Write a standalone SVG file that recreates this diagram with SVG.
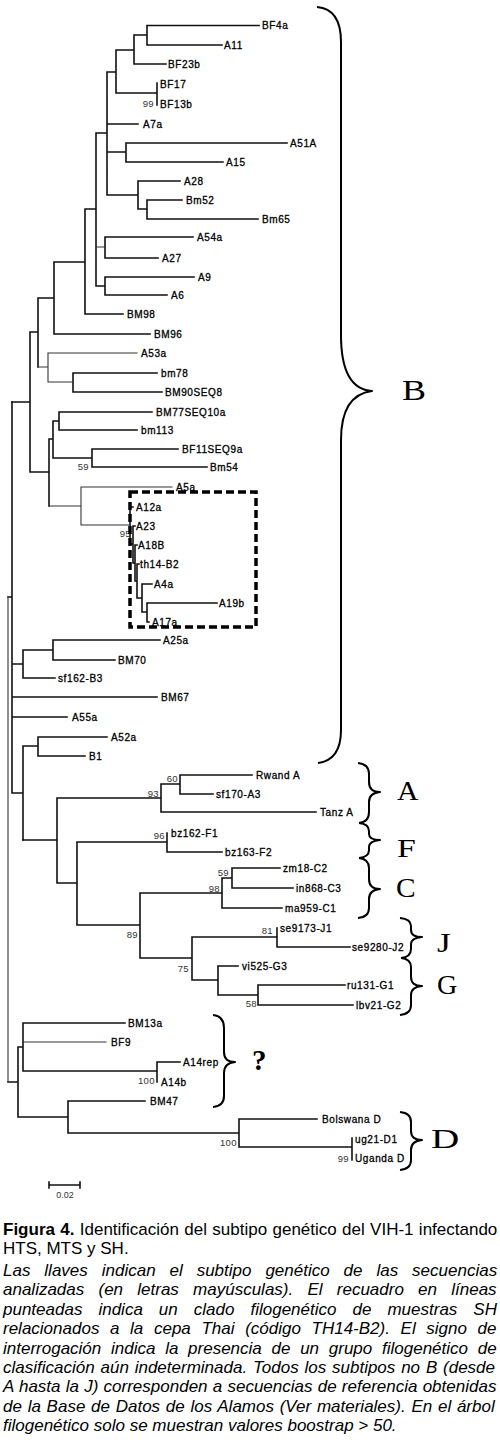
<svg xmlns="http://www.w3.org/2000/svg" width="500" height="1445" viewBox="0 0 500 1445">
<style>
.br{fill:none;stroke:#111;stroke-width:1.6;stroke-linecap:square}
.th{fill:none;stroke:#333;stroke-width:1.1;stroke-linecap:square}
.lbl{font-family:"Liberation Sans",Arial,sans-serif;font-size:10px;letter-spacing:0.6px;fill:#000;stroke:#000;stroke-width:0.3}
.bs{font-family:"Liberation Sans",Arial,sans-serif;font-size:9.5px;letter-spacing:0.4px;fill:#333;text-anchor:end}
.brace{fill:none;stroke:#000;stroke-width:2;stroke-linejoin:round}
.sub{font-family:"Liberation Serif","Times New Roman",serif;fill:#000}
.cap{font-family:"Liberation Sans",Arial,sans-serif;font-size:17px;fill:#000}
.it{font-style:italic}
</style>
<rect width="500" height="1445" fill="#fff"/>
<g id="connectors">
<path class="br" d="M147,25.5H259 M147,45H222 M147,25.5V45 M134,35H147 M134,64H166 M134,35V64 M116,50H134 M157,83V105 M116,93H157 M116,50V93 M107,72H116 M107,124H138 M126,143H287 M126,162H223 M126,143V162 M107,152H126 M138,181H180 M147,200H182 M147,219H258 M147,200V219 M138,209H147 M138,181V209 M107,195H138 M107,72V195 M96,133H107 M105,237H193 M105,258H158 M105,237V258 M105,277H194 M105,295H167 M105,277V295 M96,286H105 M96,133V286 M85,209H96 M85,314H123 M85,209V314 M54,262H85 M54,334H150 M54,262V334 M38,298H54 M73,373H157 M73,392H162 M73,373V392 M38,298V367 M30,332H38 M59,412H152 M59,430H137 M59,412V430 M53,421H59 M92,449H178 M92,467H207 M92,449V467 M53,458H92 M53,421V458 M49,439H53 M49,439V506 M30,472H49 M30,332V472 M12,402H30"/>
<path class="br" d="M130,507H133 M133,526H135 M135,545H137 M137,564H139 M142,584H152 M147,603H217 M147,622H149 M147,603V622 M142,612H147 M142,584V612 M137,598H142 M137,564V598 M135,581H137 M135,545V581 M133,563H135 M133,526V563 M130,544H133 M130,507V544"/>
<path class="br" d="M53,640H160 M53,660H115 M53,640V660 M23,650H53 M23,678H55 M23,650V678 M12,664H23 M12,697H157 M12,717H67 M38,737H107 M38,756H85 M38,737V756 M23,746H38 M23,746V840 M12,793H23 M12,402V793 M8,597H12"/>
<path class="br" d="M180,775H252 M180,794H213 M180,775V794 M161,784H180 M161,812H316 M161,784V812 M57,798H161 M23,840H57 M57,798V883 M167,833V852 M167,852H222 M77,842H167 M77,842V925 M57,883H77 M232,868H280 M232,888H293 M232,868V888 M222,878H232 M222,908H282 M222,878V908 M140,893H222 M140,893V958 M77,925H140 M277,928V947 M277,947H350 M192,937H277 M218,966H238 M258,985H345 M258,1005H353 M258,985V1005 M218,995H258 M218,966V995 M192,980H218 M192,937V980 M140,958H192"/>
<path class="br" d="M23,1023H125 M157,1062H180 M157,1062V1082 M23,1071H157 M23,1023V1071 M18,1047H23 M68,1101H145 M68,1101V1133 M18,1117H68 M18,1047V1117 M8,1082H18 M239,1119H317 M352,1138V1160 M239,1147H352 M239,1119V1147 M68,1133H239"/>
<path class="th" d="M96,247H105 M81,487H172 M81,487V525 M81,525H130 M49,506H81 M48,353H137 M48,353V382 M48,382H73 M38,367H48 M23,1042H106 M8,597V1082"/>
<g id="scalebar">
<path class="br" d="M49,1185H80 M49,1182V1188 M80,1182V1188"/>
<text x="65" y="1198" font-family="Liberation Sans, Arial, sans-serif" font-size="9" fill="#333" text-anchor="middle">0.02</text>
</g>
</g>
<g id="bootstrap">
<text class="bs" x="154" y="107">99</text>
<text class="bs" x="89" y="470">59</text>
<text class="bs" x="131" y="537">95</text>
<text class="bs" x="178" y="782">60</text>
<text class="bs" x="159" y="797">93</text>
<text class="bs" x="165" y="839">96</text>
<text class="bs" x="229" y="876">59</text>
<text class="bs" x="220" y="892">98</text>
<text class="bs" x="138" y="938">89</text>
<text class="bs" x="273" y="934">81</text>
<text class="bs" x="189" y="972">75</text>
<text class="bs" x="257" y="1007">58</text>
<text class="bs" x="155" y="1084">100</text>
<text class="bs" x="237" y="1146">100</text>
<text class="bs" x="349" y="1162">99</text>
</g>
<g id="n-BF4a"><text class="lbl" x="262" y="29">BF4a</text></g>
<g id="n-A11"><text class="lbl" x="224" y="48.5">A11</text></g>
<g id="n-BF23b"><text class="lbl" x="168" y="67.5">BF23b</text></g>
<g id="n-BF17"><text class="lbl" x="160" y="87.5">BF17</text></g>
<g id="n-BF13b"><text class="lbl" x="160" y="107.5">BF13b</text></g>
<g id="n-A7a"><text class="lbl" x="143" y="127.5">A7a</text></g>
<g id="n-A51A"><text class="lbl" x="290" y="146.5">A51A</text></g>
<g id="n-A15"><text class="lbl" x="226" y="165.5">A15</text></g>
<g id="n-A28"><text class="lbl" x="184" y="184.5">A28</text></g>
<g id="n-Bm52"><text class="lbl" x="186" y="203.5">Bm52</text></g>
<g id="n-Bm65"><text class="lbl" x="262" y="222.5">Bm65</text></g>
<g id="n-A54a"><text class="lbl" x="197" y="240.5">A54a</text></g>
<g id="n-A27"><text class="lbl" x="162" y="261.5">A27</text></g>
<g id="n-A9"><text class="lbl" x="198" y="280.5">A9</text></g>
<g id="n-A6"><text class="lbl" x="171" y="298.5">A6</text></g>
<g id="n-BM98"><text class="lbl" x="127" y="317.5">BM98</text></g>
<g id="n-BM96"><text class="lbl" x="154" y="337.5">BM96</text></g>
<g id="n-A53a"><text class="lbl" x="141" y="356.5">A53a</text></g>
<g id="n-bm78"><text class="lbl" x="161" y="376.5">bm78</text></g>
<g id="n-BM90SEQ8"><text class="lbl" x="165" y="395.5">BM90SEQ8</text></g>
<g id="n-BM77SEQ10a"><text class="lbl" x="156" y="415.5">BM77SEQ10a</text></g>
<g id="n-bm113"><text class="lbl" x="141" y="433.5">bm113</text></g>
<g id="n-BF11SEQ9a"><text class="lbl" x="182" y="452.5">BF11SEQ9a</text></g>
<g id="n-Bm54"><text class="lbl" x="210" y="470.5">Bm54</text></g>
<g id="n-A5a"><text class="lbl" x="176" y="490.5">A5a</text></g>
<g id="n-A12a"><text class="lbl" x="136" y="510.5">A12a</text></g>
<g id="n-A23"><text class="lbl" x="136" y="529.5">A23</text></g>
<g id="n-A18B"><text class="lbl" x="138" y="548.5">A18B</text></g>
<g id="n-th14-B2"><text class="lbl" x="140" y="567.5">th14-B2</text></g>
<g id="n-A4a"><text class="lbl" x="154" y="587.5">A4a</text></g>
<g id="n-A19b"><text class="lbl" x="219" y="606.5">A19b</text></g>
<g id="n-A17a"><text class="lbl" x="152" y="625.5">A17a</text></g>
<g id="n-A25a"><text class="lbl" x="163" y="643.5">A25a</text></g>
<g id="n-BM70"><text class="lbl" x="118" y="663.5">BM70</text></g>
<g id="n-sf162-B3"><text class="lbl" x="58" y="681.5">sf162-B3</text></g>
<g id="n-BM67"><text class="lbl" x="161" y="700.5">BM67</text></g>
<g id="n-A55a"><text class="lbl" x="72" y="720.5">A55a</text></g>
<g id="n-A52a"><text class="lbl" x="111" y="740.5">A52a</text></g>
<g id="n-B1"><text class="lbl" x="89" y="759.5">B1</text></g>
<g id="n-RwandA"><text class="lbl" x="256" y="778.5">Rwand A</text></g>
<g id="n-sf170-A3"><text class="lbl" x="216" y="797.5">sf170-A3</text></g>
<g id="n-TanzA"><text class="lbl" x="320" y="815.5">Tanz A</text></g>
<g id="n-bz162-F1"><text class="lbl" x="171" y="836.5">bz162-F1</text></g>
<g id="n-bz163-F2"><text class="lbl" x="225" y="855.5">bz163-F2</text></g>
<g id="n-zm18-C2"><text class="lbl" x="283" y="871.5">zm18-C2</text></g>
<g id="n-in868-C3"><text class="lbl" x="296" y="891.5">in868-C3</text></g>
<g id="n-ma959-C1"><text class="lbl" x="285" y="911.5">ma959-C1</text></g>
<g id="n-se9173-J1"><text class="lbl" x="280" y="931.5">se9173-J1</text></g>
<g id="n-se9280-J2"><text class="lbl" x="352" y="950.5">se9280-J2</text></g>
<g id="n-vi525-G3"><text class="lbl" x="242" y="969.5">vi525-G3</text></g>
<g id="n-ru131-G1"><text class="lbl" x="347" y="988.5">ru131-G1</text></g>
<g id="n-lbv21-G2"><text class="lbl" x="356" y="1008.5">lbv21-G2</text></g>
<g id="n-BM13a"><text class="lbl" x="128" y="1026.5">BM13a</text></g>
<g id="n-BF9"><text class="lbl" x="111" y="1045.5">BF9</text></g>
<g id="n-A14rep"><text class="lbl" x="183" y="1065.5">A14rep</text></g>
<g id="n-A14b"><text class="lbl" x="161" y="1085.5">A14b</text></g>
<g id="n-BM47"><text class="lbl" x="150" y="1104.5">BM47</text></g>
<g id="n-BolswanaD"><text class="lbl" x="322" y="1122.5">Bolswana D</text></g>
<g id="n-ug21-D1"><text class="lbl" x="355" y="1142.5">ug21-D1</text></g>
<g id="n-UgandaD"><text class="lbl" x="355" y="1161.5">Uganda D</text></g>
<g id="thai-box">
<rect x="130" y="492" width="126" height="135" fill="none" stroke="#000" stroke-width="3.5" stroke-dasharray="8 4"/>
</g>
<g id="brace-B">
<path class="brace" d="M317,7 Q341,9 341,42 V335 Q341,389 372,391 Q341,395 341,440 V730 Q341,760 318,763"/>
<text class="sub" font-size="30" transform="translate(402,400) scale(1.2,1)">B</text>
</g>
<g id="brace-A">
<path class="brace" d="M358,763 Q369,764 369,774 V782 Q369,792 380,792 Q369,793 369,802 V812 Q369,822 359,823"/>
<text class="sub" font-size="27" transform="translate(397,800) scale(1.1,1)">A</text>
</g>
<g id="brace-F">
<path class="brace" d="M359,823 Q369,824 369,831 V834 Q369,840 380,840 Q369,841 369,847 V850 Q369,857 359,858"/>
<text class="sub" font-size="26" transform="translate(397,857) scale(1.3,1)">F</text>
</g>
<g id="brace-C">
<path class="brace" d="M359,858 Q369,859 369,868 V879 Q369,889 380,889 Q369,890 369,899 V908 Q369,917 358,918"/>
<text class="sub" font-size="28" transform="translate(396,897) scale(1.05,1)">C</text>
</g>
<g id="brace-J">
<path class="brace" d="M400,918 Q411,919 411,926 V930 Q411,937 422,937 Q411,938 411,944 V949 Q411,957 401,958"/>
<text class="sub" font-size="27" transform="translate(437,952) scale(1.3,1)">J</text>
</g>
<g id="brace-G">
<path class="brace" d="M401,958 Q411,959 411,967 V977 Q411,986 422,986 Q411,987 411,995 V1005 Q411,1014 400,1015"/>
<text class="sub" font-size="28" transform="translate(437,994)">G</text>
</g>
<g id="brace-Q">
<path class="brace" d="M213,1015 Q224,1016 224,1028 V1052 Q224,1062 235,1062 Q224,1063 224,1073 V1096 Q224,1106 213,1107"/>
<text class="sub" font-size="29" font-weight="bold" x="252" y="1070">?</text>
</g>
<g id="brace-D">
<path class="brace" d="M400,1112 Q411,1113 411,1122 V1131 Q411,1140 422,1140 Q411,1141 411,1150 V1160 Q411,1169 400,1170"/>
<text class="sub" font-size="27" transform="translate(431,1148) scale(1.45,1)">D</text>
</g>
<g id="caption" class="cap">
<text x="3" y="1235" word-spacing="0.6"><tspan font-weight="bold">Figura 4.</tspan> Identificación del subtipo genético del VIH-1 infectando</text>
<text x="3" y="1254">HTS, MTS y SH.</text>
<text class="it" x="3" y="1276" word-spacing="9.2">Las llaves indican el subtipo genético de las secuencias</text>
<text class="it" x="3" y="1295.4" word-spacing="9.5">analizadas (en letras mayúsculas). El recuadro en líneas</text>
<text class="it" x="3" y="1314.8" word-spacing="11.3">punteadas indica un clado filogenético de muestras SH</text>
<text class="it" x="3" y="1334.2" word-spacing="5.9">relacionados a la cepa Thai (código TH14-B2). El signo de</text>
<text class="it" x="3" y="1353.6" word-spacing="5">interrogación indica la presencia de un grupo filogenético de</text>
<text class="it" x="3" y="1373" word-spacing="1.1">clasificación aún indeterminada. Todos los subtipos no B (desde</text>
<text class="it" x="3" y="1392.4" word-spacing="0.5">A hasta la J) corresponden a secuencias de referencia obtenidas</text>
<text class="it" x="3" y="1411.8" word-spacing="1">de la Base de Datos de los Alamos (Ver materiales). En el árbol</text>
<text class="it" x="3" y="1431.2">filogenético solo se muestran valores boostrap &gt; 50.</text>
</g>
</svg>
